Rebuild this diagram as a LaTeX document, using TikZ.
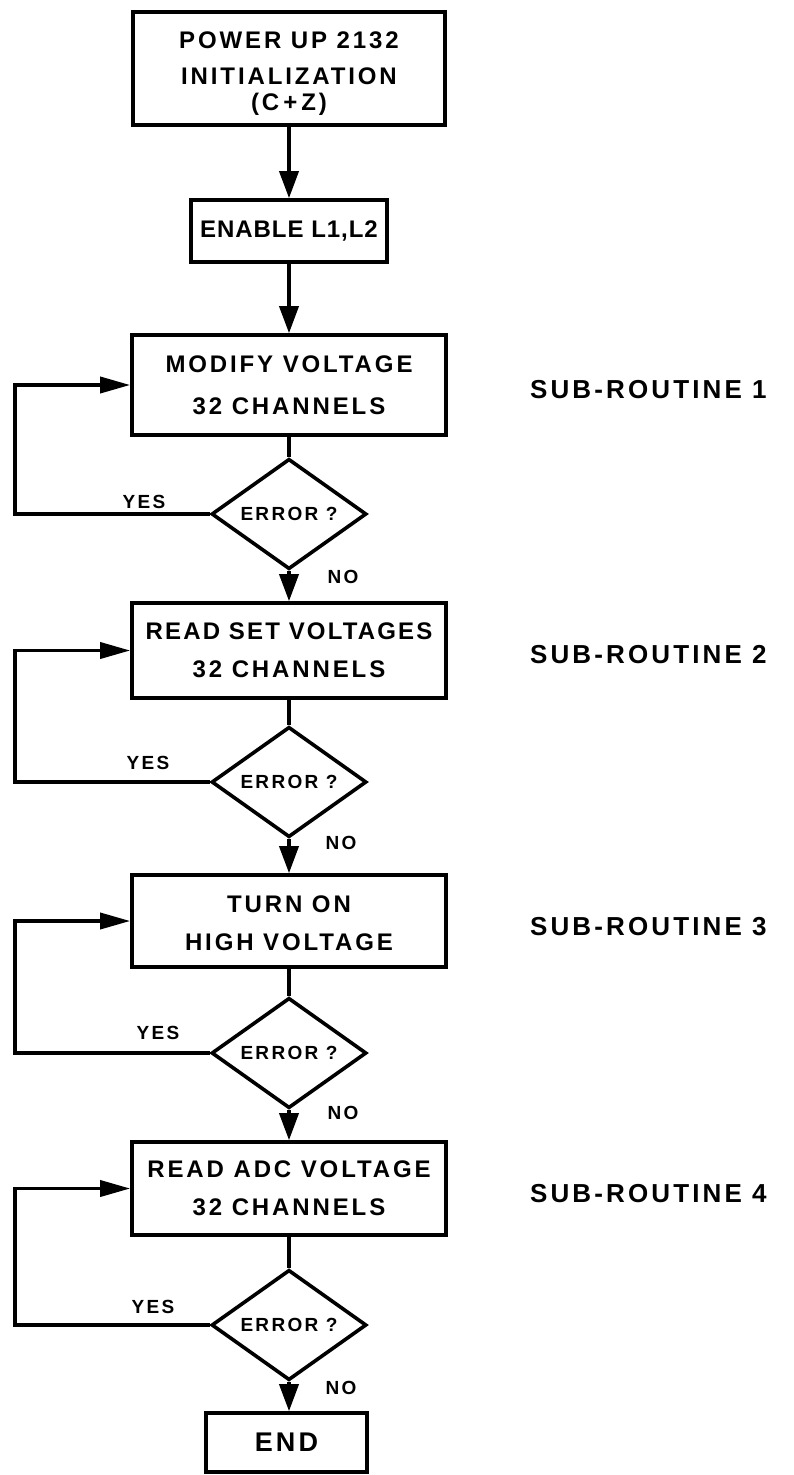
\documentclass[tikz,border=0pt]{standalone}
\usepackage{fontspec}
\setmainfont{Liberation Sans}[LetterSpace=12]
\usetikzlibrary{positioning, arrows.meta, shapes.geometric, calc}

\begin{document}
\begin{tikzpicture}[x=1pt, y=-1pt, line width=3.6pt,
  box/.style={draw, rectangle, minimum width=314pt, inner sep=0pt, align=center, font=\fontsize{24}{38}\selectfont\bfseries},
  test/.style={draw, diamond, minimum width=155pt, minimum height=88pt, inner sep=0pt, font=\fontsize{19}{22}\selectfont\bfseries},
  note/.style={font=\fontsize{19}{22}\selectfont\bfseries},
  sub/.style={anchor=west, font=\fontsize{26}{30}\selectfont\bfseries},
  flow/.style={-{Triangle[length=27pt,width=19pt]}},
  back/.style={-{Triangle[length=30pt,width=16pt]}}]
\useasboundingbox (0,0) rectangle (793,1475);

% Start
\node[box, minimum width=312pt, minimum height=113pt] (init) at (289,68.5) {\rule{0pt}{26pt}POWER UP 2132\\[-2pt] INITIALIZATION\\[-12pt] (C\,+\,Z)};
\node[box, minimum width=196pt, minimum height=62pt] (enable) at (289,231) {\addfontfeature{LetterSpace=4}ENABLE L1,L2};
\coordinate (rail) at (15,0);

% Sub-routine 1
\node[box, minimum height=100pt] (modify) at (289,385) {MODIFY VOLTAGE\\[4pt] 32 CHANNELS};
\node[test] (errA) at (289,514) {ERROR ?};
\node[note] (yesA) at (144,502) {YES};
\node[note] (noA) at (343,577) {NO};
\node[sub] (subA) at (525,390) {SUB-ROUTINE 1};

% Sub-routine 2
\node[box, minimum height=95pt] (readset) at (289,650.5) {\addfontfeature{LetterSpace=9}READ SET VOLTAGES\\ 32 CHANNELS};
\node[test] (errB) at (289,782) {ERROR ?};
\node[note] (yesB) at (148,763) {YES};
\node[note] (noB) at (341,843) {NO};
\node[sub] (subB) at (525,655) {SUB-ROUTINE 2};

% Sub-routine 3
\node[box, minimum height=92pt] (hvon) at (289,921) {\rule{0pt}{22pt}TURN ON\\ HIGH VOLTAGE};
\node[test] (errC) at (289,1053) {ERROR ?};
\node[note] (yesC) at (158,1033) {YES};
\node[note] (noC) at (343,1113) {NO};
\node[sub] (subC) at (525,927) {SUB-ROUTINE 3};

% Sub-routine 4
\node[box, minimum height=93pt] (readadc) at (289,1188.5) {READ ADC VOLTAGE\\ 32 CHANNELS};
\node[test] (errD) at (289,1325) {ERROR ?};
\node[note] (yesD) at (153,1307) {YES};
\node[note] (noD) at (341,1388) {NO};
\node[sub] (subD) at (525,1194) {SUB-ROUTINE 4};

% End
\node[box, minimum width=161pt, minimum height=59pt, font=\fontsize{27}{30}\selectfont\bfseries] (finish) at (286.5,1442.5) {END};

% Connectors
\draw[flow] (init) -- (enable);
\draw[flow] (enable) -- (modify);
\draw (modify) -- (errA);
\draw[flow] (errA) -- (readset);
\draw (readset) -- (errB);
\draw[flow] (errB) -- (hvon);
\draw (hvon) -- (errC);
\draw[flow] (errC) -- (readadc);
\draw (readadc) -- (errD);
\draw[flow] (errD.south) -- (errD.south |- finish.north);

% Loops back on error
\draw[back] (errA.west) -- (errA.west -| rail) |- (modify.west);
\draw[back] (errB.west) -- (errB.west -| rail) |- (readset.west);
\draw[back] (errC.west) -- (errC.west -| rail) |- (hvon.west);
\draw[back] (errD.west) -- (errD.west -| rail) |- (readadc.west);
\end{tikzpicture}
\end{document}
